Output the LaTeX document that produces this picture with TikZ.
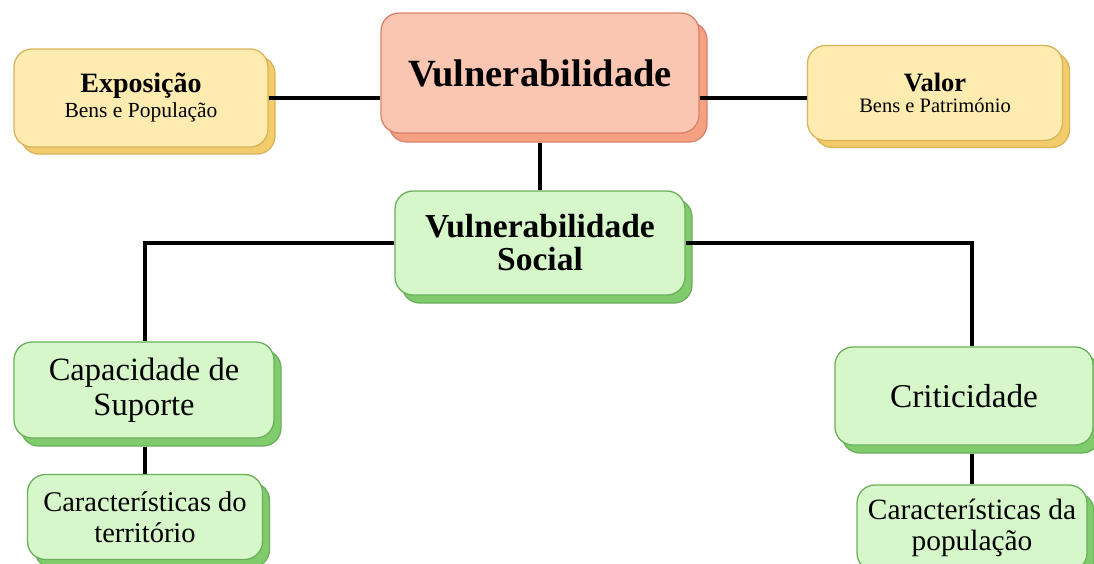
\documentclass[tikz,border=0pt]{standalone}
\usepackage{fontspec}
\setmainfont{Liberation Serif}
\usepackage{tikz}
\usetikzlibrary{positioning,shadows}

\definecolor{yfill}{HTML}{FDEBB0}
\definecolor{ydraw}{HTML}{D9B35A}
\definecolor{yshad}{HTML}{F2CC6A}
\definecolor{rfill}{HTML}{FAC6B2}
\definecolor{rdraw}{HTML}{D9826A}
\definecolor{rshad}{HTML}{F5A080}
\definecolor{gfill}{HTML}{D6F7C9}
\definecolor{gdraw}{HTML}{6AAF5A}
\definecolor{gshad}{HTML}{80CC6C}

\tikzset{
  box/.style={rectangle, rounded corners=18pt, line width=1.3pt, align=center, inner sep=0pt},
  ybox/.style={box, fill=yfill, draw=ydraw,
    general shadow={fill=yshad, draw=ydraw, shadow xshift=7pt, shadow yshift=-7pt}},
  rbox/.style={box, fill=rfill, draw=rdraw,
    general shadow={fill=rshad, draw=rdraw, shadow xshift=8pt, shadow yshift=-9pt}},
  gbox/.style={box, fill=gfill, draw=gdraw,
    general shadow={fill=gshad, draw=gdraw, shadow xshift=7pt, shadow yshift=-8pt}},
  link/.style={line width=3.2pt, black}
}

\begin{document}
\begin{tikzpicture}[x=1pt, y=-1pt]
				\useasboundingbox (0,0) rectangle (1094,563);
				%%%nodes
				%top row
				\node[rbox, minimum width=318pt, minimum height=120pt, font=\fontsize{38.5}{40}\selectfont\bfseries] at (540,73) (vul){Vulnerabilidade};
				\node[ybox, minimum width=254pt, minimum height=98pt, font=\fontsize{21.5}{25}\selectfont] at (141,98) (expo){{\fontsize{28}{30}\selectfont\bfseries Exposição}\\ Bens e População};
				\node[ybox, minimum width=255pt, minimum height=95pt, font=\fontsize{20.5}{21}\selectfont] at (935,93) (valor){{\fontsize{26.5}{28}\selectfont\bfseries Valor}\\ Bens e Património};
				%middle
				\node[gbox, minimum width=290pt, minimum height=104pt, font=\fontsize{33.5}{33}\selectfont\bfseries] at (540,243) (soc){Vulnerabilidade\\ Social};
				%left branch
				\node[gbox, minimum width=260pt, minimum height=96pt, font=\fontsize{32.5}{35}\selectfont] at (144,390) (cap){Capacidade de\\ Suporte};
				\node[gbox, minimum width=235pt, minimum height=85pt, font=\fontsize{28.5}{31}\selectfont] at (145,517) (terr){Características do\\ território};
				%right branch
				\node[gbox, minimum width=258pt, minimum height=98pt, font=\fontsize{33.3}{35}\selectfont] at (964,396) (crit){Criticidade};
				\node[gbox, minimum width=230pt, minimum height=86pt, font=\fontsize{29.4}{31}\selectfont] at (972,528) (pop){Características da\\ população};
				%%%links
				\draw[link] (expo.east) -- (vul.west |- expo.east);
				\draw[link] (vul.east |- expo.east) -- (valor.west |- expo.east);
				\draw[link] ([yshift=-9pt]vul.south) -- (soc.north);
				\draw[link] (soc.west) -| (terr.north |- cap.north);
				\draw[link] (soc.east) -| (pop.north |- crit.north);
				\draw[link] ([yshift=-8pt]terr.north |- cap.south) -- (terr.north);
				\draw[link] ([yshift=-8pt]pop.north |- crit.south) -- (pop.north);
			\end{tikzpicture}
\end{document}
